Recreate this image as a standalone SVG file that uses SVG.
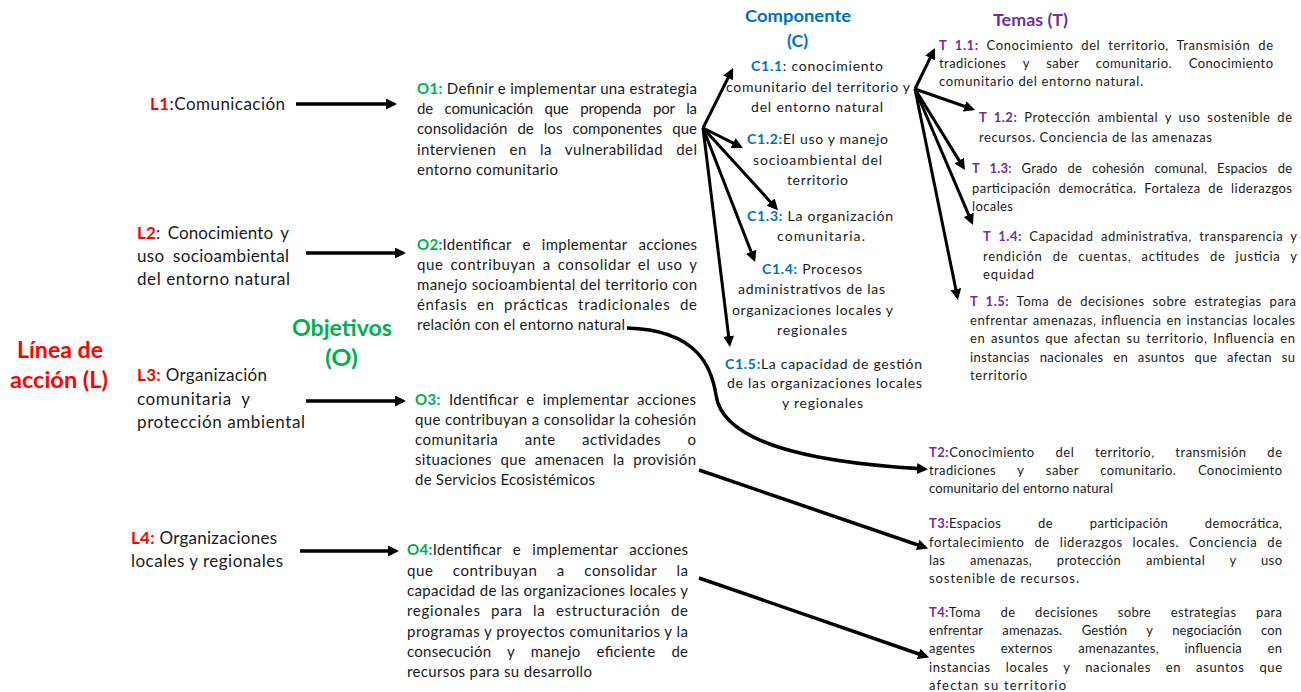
<svg xmlns="http://www.w3.org/2000/svg" width="1301" height="692" viewBox="0 0 1301 692">
<style>
text{font-family:Lato,"Open Sans","Liberation Sans",sans-serif;fill:#1a1a1a}
.l{font-size:17px}
.o{font-size:15px}
.c{font-size:14px}
.tt{font-size:13px}
.tb{font-size:13px}
.red{fill:#ff0000;font-weight:bold}
.grn{fill:#00b050;font-weight:bold}
.blu{fill:#0070c0;font-weight:bold}
.pur{fill:#7030a0;font-weight:bold}
.ln{fill:none;stroke:#000;stroke-width:3.5;marker-end:url(#ah)}
.fn{fill:none;stroke:#000;stroke-width:3;marker-end:url(#ah)}
</style>
<defs>
<marker id="ah" markerUnits="userSpaceOnUse" markerWidth="12" markerHeight="12" refX="8" refY="5.5" orient="auto">
<path d="M0,0 L11,5.5 L0,11 z" fill="#000"/>
</marker>
</defs>
<rect width="1301" height="692" fill="#fff"/>

<g id="connectors">
<path class="ln" d="M296,104 L394,104"/>
<path class="ln" d="M306,253 L403,253"/>
<path class="ln" d="M306,401 L403,401"/>
<path class="ln" d="M300,551 L396,551"/>
<path class="fn" d="M703,128 L731.7,70.7"/>
<path class="fn" d="M703,128 L740.3,146.7"/>
<path class="fn" d="M703,128 L776,208"/>
<path class="fn" d="M703,128 L754,259.2"/>
<path class="fn" d="M703,128 L729.6,344"/>
<path class="fn" d="M915,89 L933.7,50.7"/>
<path class="fn" d="M915,89 L972.2,109"/>
<path class="fn" d="M915,89 L963.4,167.4"/>
<path class="fn" d="M915,89 L971.8,222.2"/>
<path class="fn" d="M915,89 L957.4,297"/>
<path class="ln" d="M627,328 C700,330 712,370 716,395 C722,440 800,462 925,469"/>
<path class="ln" d="M699,470 L925.2,547.5"/>
<path class="ln" d="M699,578 L926.2,656.5"/>
</g>

<g id="title-L">
<text class="red" x="17" y="358" font-size="23" textLength="86" lengthAdjust="spacingAndGlyphs">Línea de</text>
<text class="red" x="10" y="388" font-size="23" textLength="98" lengthAdjust="spacingAndGlyphs">acción (L)</text>
</g>
<g id="title-O">
<text class="grn" x="292" y="336" font-size="22" textLength="100" lengthAdjust="spacingAndGlyphs">Objetivos</text>
<text class="grn" x="325" y="366" font-size="22" textLength="33" lengthAdjust="spacingAndGlyphs">(O)</text>
</g>
<g id="title-C">
<text class="blu" x="745" y="22" font-size="17" textLength="106" lengthAdjust="spacingAndGlyphs">Componente</text>
<text class="blu" x="787" y="47" font-size="17" textLength="21" lengthAdjust="spacingAndGlyphs">(C)</text>
</g>
<g id="title-T">
<text class="pur" x="993" y="26" font-size="17" textLength="75" lengthAdjust="spacingAndGlyphs">Temas (T)</text>
</g>

<g id="L1">
<text class="l" x="150" y="110" textLength="135" lengthAdjust="spacing"><tspan class="red">L1</tspan>:Comunicación</text>
</g>
<g id="L2">
<text class="l" x="137" y="239" word-spacing="3" textLength="152" lengthAdjust="spacing"><tspan class="red">L2</tspan>: Conocimiento y</text>
<text class="l" x="137" y="262" word-spacing="4" textLength="152" lengthAdjust="spacing">uso socioambiental</text>
<text class="l" x="137" y="285" textLength="153" lengthAdjust="spacing">del entorno natural</text>
</g>
<g id="L3">
<text class="l" x="137" y="381" textLength="130" lengthAdjust="spacing"><tspan class="red">L3:</tspan> Organización</text>
<text class="l" x="137" y="405" textLength="113" lengthAdjust="spacing" xml:space="preserve">comunitaria  y</text>
<text class="l" x="137" y="428" textLength="168" lengthAdjust="spacing">protección ambiental</text>
</g>
<g id="L4">
<text class="l" x="131" y="544" textLength="146" lengthAdjust="spacing"><tspan class="red">L4:</tspan> Organizaciones</text>
<text class="l" x="131" y="567" textLength="152" lengthAdjust="spacing">locales y regionales</text>
</g>

<g id="O1">
<text class="o" x="417" y="94" textLength="280" lengthAdjust="spacing"><tspan class="grn">O1:</tspan> Definir e implementar una estrategia</text>
<text class="o" x="417" y="114" word-spacing="8" textLength="280" lengthAdjust="spacing">de comunicación que propenda por la</text>
<text class="o" x="417" y="134" word-spacing="6" textLength="280" lengthAdjust="spacing">consolidación de los componentes que</text>
<text class="o" x="417" y="155" word-spacing="9" textLength="280" lengthAdjust="spacing">intervienen en la vulnerabilidad del</text>
<text class="o" x="417" y="175" textLength="141" lengthAdjust="spacing">entorno comunitario</text>
</g>
<g id="O2">
<text class="o" x="417" y="250" word-spacing="7" textLength="280" lengthAdjust="spacing"><tspan class="grn">O2:</tspan>Identificar e implementar acciones</text>
<text class="o" x="417" y="270" word-spacing="2.5" textLength="280" lengthAdjust="spacing">que contribuyan a consolidar el uso y</text>
<text class="o" x="417" y="290" textLength="280" lengthAdjust="spacing">manejo socioambiental del territorio con</text>
<text class="o" x="417" y="310" word-spacing="5" textLength="280" lengthAdjust="spacing">énfasis en prácticas tradicionales de</text>
<text class="o" x="417" y="330" textLength="208" lengthAdjust="spacing">relación con el entorno natural</text>
</g>
<g id="O3">
<text class="o" x="415" y="405" word-spacing="4" textLength="281" lengthAdjust="spacing"><tspan class="grn">O3:</tspan> Identificar e implementar acciones</text>
<text class="o" x="415" y="425" textLength="281" lengthAdjust="spacing">que contribuyan a consolidar la cohesión</text>
<text class="o" x="415" y="445" word-spacing="22" textLength="281" lengthAdjust="spacing">comunitaria ante actividades o</text>
<text class="o" x="415" y="465" word-spacing="4.5" textLength="281" lengthAdjust="spacing">situaciones que amenacen la provisión</text>
<text class="o" x="415" y="485" textLength="180" lengthAdjust="spacing">de Servicios Ecosistémicos</text>
</g>
<g id="O4">
<text class="o" x="407" y="555" word-spacing="7" textLength="281" lengthAdjust="spacing"><tspan class="grn">O4:</tspan>Identificar e implementar acciones</text>
<text class="o" x="407" y="576" word-spacing="15" textLength="281" lengthAdjust="spacing">que contribuyan a consolidar la</text>
<text class="o" x="407" y="596" textLength="281" lengthAdjust="spacing">capacidad de las organizaciones locales y</text>
<text class="o" x="407" y="616" word-spacing="6" textLength="281" lengthAdjust="spacing">regionales para la estructuración de</text>
<text class="o" x="407" y="637" textLength="281" lengthAdjust="spacing">programas y proyectos comunitarios y la</text>
<text class="o" x="407" y="657" word-spacing="12" textLength="281" lengthAdjust="spacing">consecución y manejo eficiente de</text>
<text class="o" x="407" y="677" textLength="185" lengthAdjust="spacing">recursos para su desarrollo</text>
</g>

<g id="C1-1">
<text class="c" x="751" y="71" textLength="132" lengthAdjust="spacing"><tspan class="blu">C1.1</tspan>: conocimiento</text>
<text class="c" x="726" y="92" textLength="184" lengthAdjust="spacing">comunitario del territorio y</text>
<text class="c" x="751" y="112" textLength="132" lengthAdjust="spacing">del entorno natural</text>
</g>
<g id="C1-2">
<text class="c" x="747" y="144" textLength="141" lengthAdjust="spacing"><tspan class="blu">C1.2:</tspan>El uso y manejo</text>
<text class="c" x="753" y="165" textLength="129" lengthAdjust="spacing">socioambiental del</text>
<text class="c" x="787" y="185" textLength="61" lengthAdjust="spacing">territorio</text>
</g>
<g id="C1-3">
<text class="c" x="747" y="221" textLength="146" lengthAdjust="spacing"><tspan class="blu">C1.3:</tspan> La organización</text>
<text class="c" x="777" y="241" textLength="88" lengthAdjust="spacing">comunitaria.</text>
</g>
<g id="C1-4">
<text class="c" x="762" y="274" textLength="100" lengthAdjust="spacing"><tspan class="blu">C1.4:</tspan> Procesos</text>
<text class="c" x="738" y="294" textLength="147" lengthAdjust="spacing">administrativos de las</text>
<text class="c" x="732" y="315" textLength="161" lengthAdjust="spacing">organizaciones locales y</text>
<text class="c" x="777" y="335" textLength="70" lengthAdjust="spacing">regionales</text>
</g>
<g id="C1-5">
<text class="c" x="725" y="369" textLength="197" lengthAdjust="spacing"><tspan class="blu">C1.5:</tspan>La capacidad de gestión</text>
<text class="c" x="727" y="388" textLength="195" lengthAdjust="spacing">de las organizaciones locales</text>
<text class="c" x="782" y="408" textLength="81" lengthAdjust="spacing">y regionales</text>
</g>

<g id="T1-1">
<text class="tt" x="939" y="50" word-spacing="4" textLength="334" lengthAdjust="spacing"><tspan class="pur">T 1.1:</tspan> Conocimiento del territorio, Transmisión de</text>
<text class="tt" x="939" y="68" word-spacing="13" textLength="334" lengthAdjust="spacing">tradiciones y saber comunitario. Conocimiento</text>
<text class="tt" x="939" y="86" textLength="204" lengthAdjust="spacing">comunitario del entorno natural.</text>
</g>
<g id="T1-2">
<text class="tt" x="979" y="122" word-spacing="3" textLength="313" lengthAdjust="spacing"><tspan class="pur">T 1.2:</tspan> Protección ambiental y uso sostenible de</text>
<text class="tt" x="979" y="142" textLength="233" lengthAdjust="spacing">recursos. Conciencia de las amenazas</text>
</g>
<g id="T1-3">
<text class="tt" x="972" y="173" word-spacing="6.5" textLength="320" lengthAdjust="spacing"><tspan class="pur">T 1.3</tspan>: Grado de cohesión comunal, Espacios de</text>
<text class="tt" x="972" y="193" word-spacing="4" textLength="320" lengthAdjust="spacing">participación democrática. Fortaleza de liderazgos</text>
<text class="tt" x="972" y="211" textLength="41" lengthAdjust="spacing">locales</text>
</g>
<g id="T1-4">
<text class="tt" x="983" y="241" word-spacing="3.5" textLength="314" lengthAdjust="spacing"><tspan class="pur">T 1.4:</tspan> Capacidad administrativa, transparencia y</text>
<text class="tt" x="983" y="261" word-spacing="6" textLength="314" lengthAdjust="spacing">rendición de cuentas, actitudes de justicia y</text>
<text class="tt" x="983" y="279" textLength="51" lengthAdjust="spacing">equidad</text>
</g>
<g id="T1-5">
<text class="tt" x="970" y="306" word-spacing="4" textLength="326" lengthAdjust="spacing"><tspan class="pur">T 1.5:</tspan> Toma de decisiones sobre estrategias para</text>
<text class="tt" x="970" y="325" word-spacing="1" textLength="325" lengthAdjust="spacing">enfrentar amenazas, influencia en instancias locales</text>
<text class="tt" x="970" y="343" word-spacing="1.5" textLength="325" lengthAdjust="spacing">en asuntos que afectan su territorio, Influencia en</text>
<text class="tt" x="970" y="362" word-spacing="6" textLength="325" lengthAdjust="spacing">instancias nacionales en asuntos que afectan su</text>
<text class="tt" x="970" y="380" textLength="57" lengthAdjust="spacing">territorio</text>
</g>

<g id="T2">
<text class="tb" x="929" y="457" word-spacing="17" textLength="353" lengthAdjust="spacing"><tspan class="pur">T2:</tspan>Conocimiento del territorio, transmisión de</text>
<text class="tb" x="929" y="475" word-spacing="18" textLength="353" lengthAdjust="spacing">tradiciones y saber comunitario. Conocimiento</text>
<text class="tb" x="929" y="493" textLength="184" lengthAdjust="spacing">comunitario del entorno natural</text>
</g>
<g id="T3">
<text class="tb" x="929" y="528" word-spacing="33" textLength="353" lengthAdjust="spacing"><tspan class="pur">T3:</tspan>Espacios de participación democrática,</text>
<text class="tb" x="929" y="547" word-spacing="6" textLength="353" lengthAdjust="spacing">fortalecimiento de liderazgos locales. Conciencia de</text>
<text class="tb" x="929" y="565" word-spacing="21" textLength="353" lengthAdjust="spacing">las amenazas, protección ambiental y uso</text>
<text class="tb" x="929" y="583" textLength="150" lengthAdjust="spacing">sostenible de recursos.</text>
</g>
<g id="T4">
<text class="tb" x="929" y="617" word-spacing="16" textLength="353" lengthAdjust="spacing"><tspan class="pur">T4:</tspan>Toma de decisiones sobre estrategias para</text>
<text class="tb" x="929" y="635" word-spacing="16" textLength="353" lengthAdjust="spacing">enfrentar amenazas. Gestión y negociación con</text>
<text class="tb" x="929" y="653" word-spacing="22" textLength="353" lengthAdjust="spacing">agentes externos amenazantes, influencia en</text>
<text class="tb" x="929" y="672" word-spacing="11" textLength="353" lengthAdjust="spacing">instancias locales y nacionales en asuntos que</text>
<text class="tb" x="929" y="690" textLength="137" lengthAdjust="spacing">afectan su territorio</text>
</g>
</svg>
